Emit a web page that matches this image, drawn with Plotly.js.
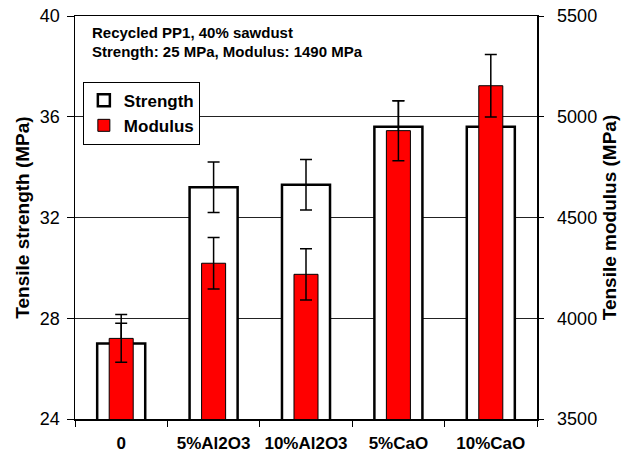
<!DOCTYPE html>
<html>
<head>
<meta charset="utf-8">
<script src="https://cdn.plot.ly/plotly-3.0.1.min.js"></script>
<style>html,body{margin:0;padding:0;background:#fff;}#chart{width:624px;height:463px;}</style>
</head>
<body>
<div id="chart"></div>
<script>
const categories = ["0", "5%Al2O3", "10%Al2O3", "5%CaO", "10%CaO"];
const strength = [27.0, 33.2, 33.3, 35.6, 35.6];
const strengthErr = [0.8, 1.0, 1.0, 1.04, 1.0];
const modulus = [3900, 4273, 4218, 4931, 5154];
const modulusErr = [118, 128, 127, 149, 155];

const font = "Arial, 'Liberation Sans', sans-serif";

const traces = [
  {
    type: "bar", name: "Strength", x: categories, y: strength, yaxis: "y",
    width: 0.52,
    marker: {color: "#ffffff", line: {color: "#000000", width: 2.5}},
    error_y: {type: "data", array: strengthErr, visible: true, color: "#000000", thickness: 1.5, width: 6}
  },
  {
    type: "bar", name: "Modulus", x: categories, y: modulus, yaxis: "y2",
    width: 0.26,
    marker: {color: "#ff0000", line: {color: "#000000", width: 1}},
    error_y: {type: "data", array: modulusErr, visible: true, color: "#000000", thickness: 1.5, width: 6}
  }
];

const layout = {
  width: 624, height: 463,
  margin: {l: 75, r: 87, t: 16, b: 44},
  paper_bgcolor: "#ffffff", plot_bgcolor: "#ffffff",
  barmode: "overlay",
  showlegend: true,
  font: {family: font, color: "#000000"},
  xaxis: {
    type: "category",
    showline: true, linecolor: "#000000", linewidth: 1.5, mirror: true,
    ticks: "outside", tickson: "boundaries", ticklen: 6, tickcolor: "#000000",
    tickfont: {size: 17, family: font, weight: "bold"},
    showgrid: false, zeroline: false,
    ticklabelstandoff: 8
  },
  yaxis: {
    range: [24, 40], dtick: 4, tick0: 24,
    showline: true, linecolor: "#000000", linewidth: 1.5,
    ticks: "outside", ticklen: 7, tickcolor: "#000000",
    tickfont: {size: 18, family: font},
    showgrid: true, gridcolor: "#222222", gridwidth: 1,
    zeroline: false,
    ticklabelstandoff: 3,
    title: {text: "Tensile strength (MPa)", font: {size: 19, family: font, weight: "bold"}, standoff: 5}
  },
  yaxis2: {
    range: [3500, 5500], dtick: 500, tick0: 3500,
    overlaying: "y", side: "right",
    showline: true, linecolor: "#000000", linewidth: 1.5,
    ticks: "outside", ticklen: 5, tickcolor: "#000000",
    tickfont: {size: 18, family: font},
    showgrid: false, zeroline: false,
    ticklabelstandoff: 10,
    title: {text: "Tensile modulus (MPa)", font: {size: 19, family: font, weight: "bold"}, standoff: 6}
  },
  legend: {
    x: 0.017, y: 0.837, xanchor: "left", yanchor: "top",
    bgcolor: "#ffffff", bordercolor: "#000000", borderwidth: 1,
    font: {size: 17, family: font, weight: "bold"},
    tracegroupgap: 0
  },
  annotations: [
    {xref: "paper", yref: "paper", x: 0.032, y: 0.958, xanchor: "left", yanchor: "middle",
     text: "Recycled PP1, 40% sawdust", showarrow: false,
     font: {size: 15, family: font, weight: "bold"}},
    {xref: "paper", yref: "paper", x: 0.032, y: 0.911, xanchor: "left", yanchor: "middle",
     text: "Strength: 25 MPa, Modulus: 1490 MPa", showarrow: false,
     font: {size: 15, family: font, weight: "bold"}}
  ]
};

Plotly.newPlot("chart", traces, layout, {displayModeBar: false, staticPlot: true});
</script>
</body>
</html>
